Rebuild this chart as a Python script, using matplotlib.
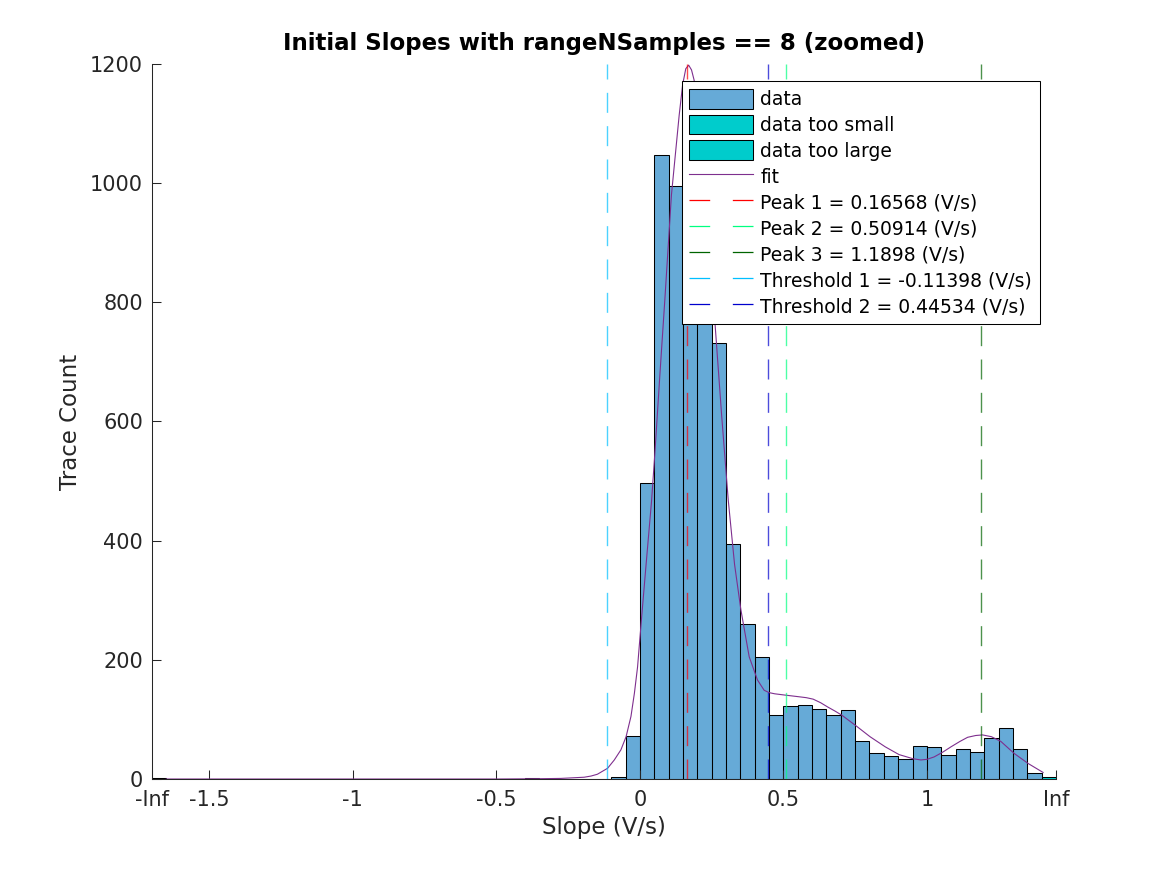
import numpy as np
import matplotlib
matplotlib.use('Agg')
import matplotlib.pyplot as plt
from matplotlib.lines import Line2D
from matplotlib.patches import Patch

plt.rcParams['font.family'] = ['DejaVu Sans']
plt.rcParams['lines.scale_dashes'] = False

# histogram counts, bins of 0.05 V/s starting at -0.40
bin_start = -0.40
bin_width = 0.05
counts = [1, 0, 0, 0, 0, 0, 3, 73, 497, 1047, 995, 1120, 900, 731, 395, 260,
          204, 108, 123, 125, 117, 107, 115, 63, 43, 38, 33, 55, 53, 40, 50,
          46, 68, 85, 51, 10]
# out of range bins, drawn at the edges of the zoom window
small_edge, small_count = -1.70, 2
large_edge, large_count = 1.40, 4

# fitted curve
fit_x = [-1.65, -1.0, -0.5, -0.4, -0.35, -0.275, -0.235, -0.194, -0.17,
         -0.148, -0.1125, -0.089, -0.066, -0.048, -0.031, -0.019, -0.008,
         0.0035, 0.021, 0.041, 0.053, 0.07, 0.087, 0.11, 0.137, 0.149, 0.16,
         0.170, 0.18, 0.189, 0.21, 0.235, 0.261, 0.285, 0.308, 0.33, 0.352,
         0.381, 0.41, 0.433, 0.45, 0.47, 0.503, 0.555, 0.58, 0.604, 0.63,
         0.654, 0.68, 0.704, 0.754, 0.802, 0.855, 0.903, 0.952, 0.979, 1.0,
         1.025, 1.055, 1.084, 1.115, 1.142, 1.17, 1.194, 1.225, 1.258, 1.304,
         1.353, 1.405]
fit_y = [0, 0, 0, 0.3, 0.5, 1, 2, 3, 5, 8, 18, 32, 49, 71, 105, 144, 188,
         256, 356, 468, 552, 680, 804, 980, 1114, 1165, 1192, 1198, 1190,
         1173, 1090, 950, 770, 610, 468, 360, 284, 205, 166, 149, 145, 143,
         141, 138, 136.5, 134, 128, 121, 114, 107, 89, 71, 54, 41, 34, 32,
         33, 37, 45, 54, 63, 70, 73, 74, 71, 63, 43, 26, 11]

peak_vals = [0.16568, 0.50914, 1.1898]
peak_cols = ['#ff0000', '#00ff80', '#006400']
thr_vals = [-0.11398, 0.44534]
thr_cols = ['#00bfff', '#0000cd']

xtick_pos = [-1.70, -1.5, -1.0, -0.5, 0.0, 0.5, 1.0, 1.45]
xtick_lab = ['-Inf', '-1.5', '-1', '-0.5', '0', '0.5', '1', 'Inf']

bar_col = (0, 0.447, 0.741, 0.6)
out_col = (0, 0.8, 0.8)
fit_col = '#7e2f8e'
txt = '#262626'

fig = plt.figure(figsize=(11.67, 8.75), dpi=100)
ax = fig.add_axes([0.1302, 0.1097, 0.7747, 0.8172])

edges = bin_start + bin_width * np.arange(len(counts))
ax.bar(edges, counts, width=bin_width, align='edge', facecolor=bar_col,
       edgecolor='k', linewidth=0.75)
ax.bar([small_edge], [small_count], width=bin_width, align='edge',
       facecolor=out_col, edgecolor='k', linewidth=0.75)
ax.bar([large_edge], [large_count], width=bin_width, align='edge',
       facecolor=out_col, edgecolor='k', linewidth=0.75)

ax.plot(fit_x, fit_y, color=fit_col, lw=0.8)

dash_plot = (14.4, 9.6)
for v, c in zip(peak_vals + thr_vals, peak_cols + thr_cols):
    ax.axvline(v, color=c, lw=1.0, alpha=0.7, dashes=dash_plot)

ax.set_xlim(-1.70, 1.45)
ax.set_ylim(0, 1200)
ax.set_xticks(xtick_pos)
ax.set_xticklabels(xtick_lab)
ax.set_yticks(np.arange(0, 1201, 200))
for s in ['top', 'right']:
    ax.spines[s].set_visible(False)
for s in ['left', 'bottom']:
    ax.spines[s].set_linewidth(0.75)
    ax.spines[s].set_color(txt)
ax.tick_params(direction='in', length=6.7, width=0.75, labelsize=15,
               colors=txt)
ax.tick_params(axis='x', pad=8)
ax.tick_params(axis='y', pad=6.5)

ax.set_xlabel('Slope (V/s)', fontsize=16.5, color=txt, labelpad=4)
ax.set_ylabel('Trace Count', fontsize=16.5, color=txt, labelpad=6)
ax.set_title('Initial Slopes with rangeNSamples == 8 (zoomed)',
             fontsize=16.5, fontweight='bold', pad=10)

# legend with proxy handles (dashes look longer in the legend)
dash_leg = (14.9, 16.3)
handles = [Patch(facecolor=bar_col, edgecolor='k', lw=0.75),
           Patch(facecolor=out_col, edgecolor='k', lw=0.75),
           Patch(facecolor=out_col, edgecolor='k', lw=0.75),
           Line2D([], [], color=fit_col, lw=0.8)]
labels = ['data', 'data too small', 'data too large', 'fit']
for i, (v, c) in enumerate(zip(peak_vals, peak_cols)):
    handles.append(Line2D([], [], color=c, lw=0.9, dashes=dash_leg))
    labels.append('Peak %d = %g (V/s)' % (i + 1, v))
for i, (v, c) in enumerate(zip(thr_vals, thr_cols)):
    handles.append(Line2D([], [], color=c, lw=0.9, dashes=dash_leg))
    labels.append('Threshold %d = %g (V/s)' % (i + 1, v))

leg = ax.legend(handles, labels, loc='upper right',
                bbox_to_anchor=(0.982, 0.976), borderaxespad=0,
                fancybox=False, edgecolor='k', framealpha=1, fontsize=13.5,
                handlelength=3.4, handleheight=1.26, labelspacing=0.3,
                handletextpad=0.4, borderpad=0.4)
leg.get_frame().set_linewidth(0.75)

fig.savefig('out.png', dpi=100)
